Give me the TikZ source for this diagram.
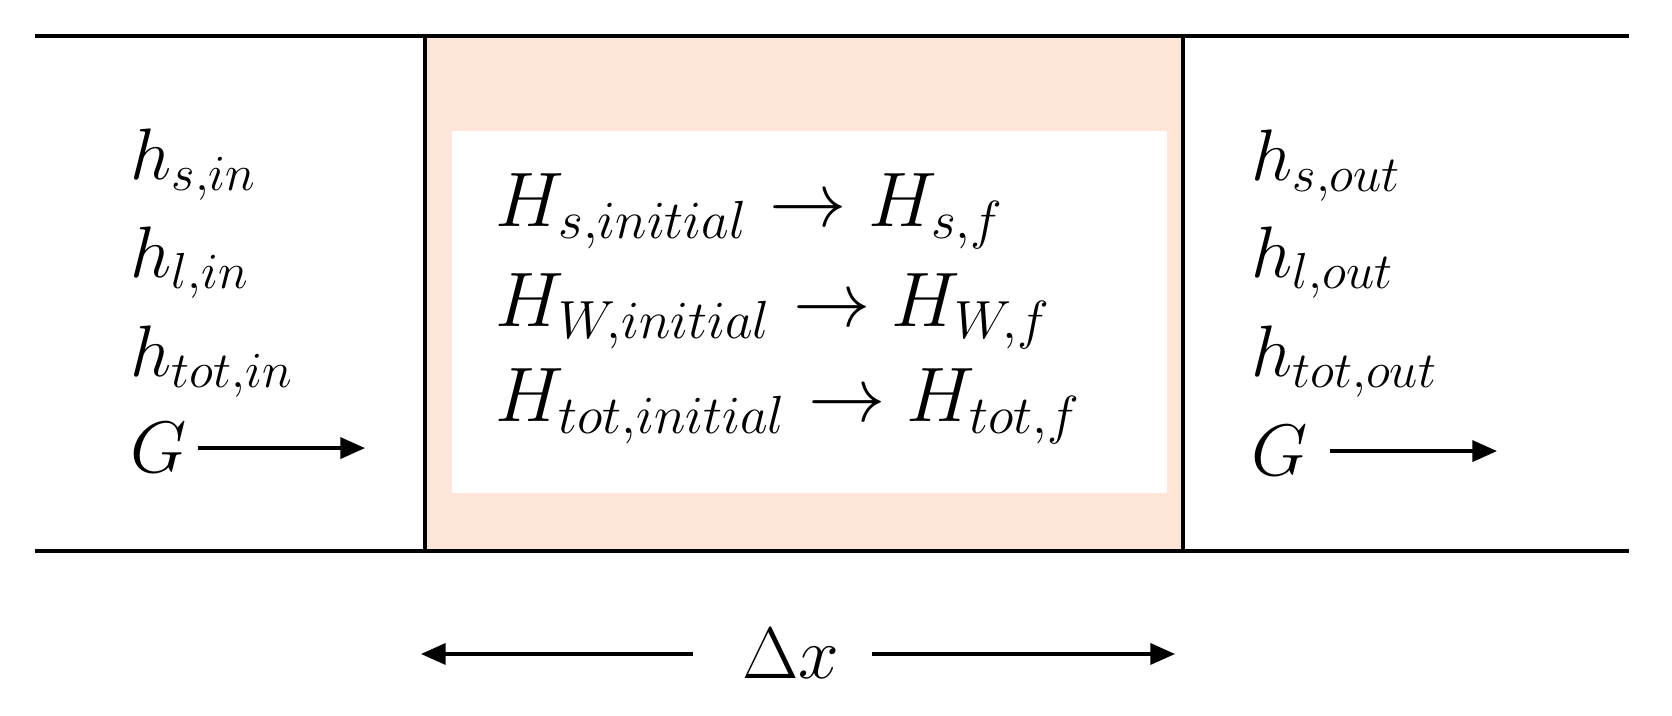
\documentclass[tikz,border=0pt]{standalone}
\usepackage{amsmath}
\usetikzlibrary{arrows.meta}
\definecolor{peach}{RGB}{253,229,215}

\begin{document}
\begin{tikzpicture}[x=0.01cm,y=-0.01cm,
side/.style={anchor=base west,inner sep=0pt,font=\huge},
core/.style={anchor=base west,inner sep=0pt,font=\huge,scale=1.06},
flow/.style={-{Triangle[length=7pt,width=6pt]},line width=0.9pt}]
\useasboundingbox (0,0) rectangle (1672,716);
% control volume
\fill[peach] (425,36) rectangle (1183,551);
\fill[white] (452,131) rectangle (1167,493);
\draw[line width=0.9pt] (425,36) -- (425,551) (1183,36) -- (1183,551);
\draw[line width=0.9pt] (35,36) -- (1629,36) (35,551) -- (1629,551);
% inlet
\node[side] (hsin) at (130,180) {$h_{s,in}$};
\node[side] (hlin) at (130,278) {$h_{l,in}$};
\node[side] (htotin) at (130,377) {$h_{tot,in}$};
\node[side] (Gin) at (130,473) {$G$};
\coordinate (ginend) at (365,448);
\draw[flow] ([xshift=3pt]Gin.east) -- (Gin.east -| ginend);
% stored enthalpy
\node[core] (Hs) at (495,227) {$H_{s,initial} \rightarrow H_{s,f}$};
\node[core] (HW) at (495,327) {$H_{W,initial} \rightarrow H_{W,f}$};
\node[core] (Htot) at (495,422) {$H_{tot,initial} \rightarrow H_{tot,f}$};
% outlet
\node[side] (hsout) at (1251,181) {$h_{s,out}$};
\node[side] (hlout) at (1251,278) {$h_{l,out}$};
\node[side] (htotout) at (1251,377) {$h_{tot,out}$};
\node[side] (Gout) at (1251,476) {$G$};
\coordinate (goutend) at (1497,451);
\draw[flow] ([xshift=6pt]Gout.east) -- (Gout.east -| goutend);
% length of the element
\node[inner sep=0pt,font=\huge] (dx) at (791,654) {$\Delta x$};
\coordinate (dxl) at (421,654);
\coordinate (dxr) at (1175,654);
\draw[flow] ([xshift=-14pt]dx.west) -- (dxl);
\draw[flow] ([xshift=9pt]dx.east) -- (dxr);
\end{tikzpicture}
\end{document}
